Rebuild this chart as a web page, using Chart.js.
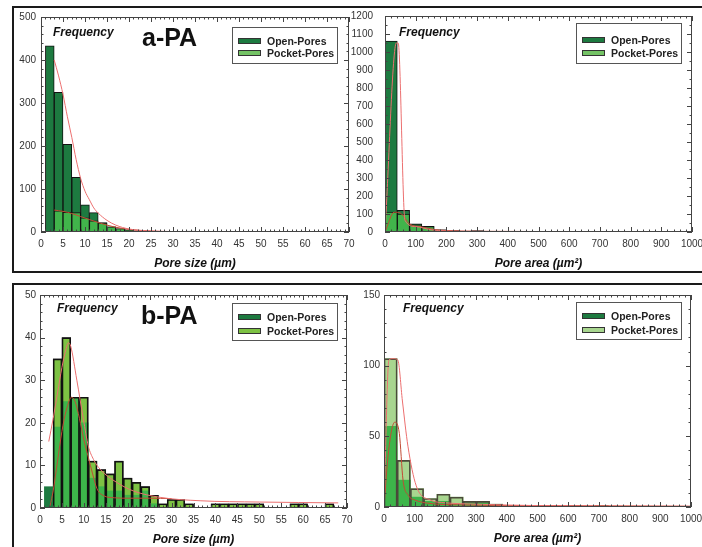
<!DOCTYPE html>
<html><head><meta charset="utf-8">
<script src="https://cdn.jsdelivr.net/npm/chart.js@4.4.0/dist/chart.umd.min.js"></script>
<style>
html,body{margin:0;padding:0;background:#fff;}
#wrap{position:relative;width:702px;height:547px;overflow:hidden;font-family:"Liberation Sans",Arial,sans-serif;}
canvas{position:absolute;left:0;top:0;}
.frame{position:absolute;border:2px solid #1a1a1a;box-sizing:border-box;}
.freq{position:absolute;font:italic bold 12px "Liberation Sans",Arial,sans-serif;color:#111;line-height:12px;white-space:nowrap;}
.tag{position:absolute;font:bold 25px "Liberation Sans",Arial,sans-serif;color:#111;line-height:25px;white-space:nowrap;}
.leg{position:absolute;border:1px solid #555;background:#fff;box-sizing:border-box;}
.sw{position:absolute;width:23px;height:6px;border:1px solid #333;box-sizing:border-box;}
.lt{position:absolute;font:bold 10.5px "Liberation Sans",Arial,sans-serif;color:#222;line-height:12px;white-space:nowrap;}
</style>
</head><body>
<div id="wrap">
  <div class="frame" style="left:12px;top:6px;width:710px;height:267px;"></div>
  <div class="frame" style="left:12px;top:283px;width:710px;height:280px;"></div>
  <canvas id="c1" width="702" height="547"></canvas>
  <canvas id="c2" width="702" height="547"></canvas>
  <canvas id="c3" width="702" height="547"></canvas>
  <canvas id="c4" width="702" height="547"></canvas>
  <div class="freq" style="left:53px;top:26px;">Frequency</div>
  <div class="freq" style="left:399px;top:26px;">Frequency</div>
  <div class="freq" style="left:57px;top:302px;">Frequency</div>
  <div class="freq" style="left:403px;top:302px;">Frequency</div>
  <div class="tag" style="left:142px;top:25px;">a-PA</div>
  <div class="tag" style="left:141px;top:303px;">b-PA</div>
</div>
<script>
// ---------- DATA ----------
// a-PA : pore size (bins of 2 µm)
const aSizeBins   = [2,4,6,8,10,12,14,16,18,20,22,24,26,28,30,32,34];
const aSizeOpen   = [433,325,204,127,63,45,22,12,7,4,2,1,1,0,0,0,2];
const aSizePocket = [0,49,46,45,33,26,21,12,8,5,3,2,1,0,0,0,0];
const aSizeOpenFitX   = [3,4,5,6,7,8,9,10,11,12,13,15,17,20,25,30,35];
const aSizeOpenFitY   = [400,363,320,268,220,168,125,95,75,56,44,27,16,7,2.5,1,0.5];
const aSizePocketFitX = [3,5,7,9,11,13,15,17,20,25,30];
const aSizePocketFitY = [51,48,43,36,29,22,16,11,6,2,0.5];

// a-PA : pore area (bins of 40 µm²)
const aAreaBins   = [20,60,100,140,180,220,260,300,340,380,420,460];
const aAreaOpen   = [1060,120,45,32,12,8,5,8,3,2,1,1];
const aAreaPocket = [110,100,40,30,12,6,4,3,2,1,1,0];
const aAreaOpenFitX   = [0,37,43,65,100,150,200,300,500,1000];
const aAreaOpenFitY   = [0,1050,1050,65,30,12,6,3,1.5,0.5];
const aAreaPocketFitX = [0,30,50,80,120,160,200,300,1000];
const aAreaPocketFitY = [0,110,105,45,28,14,8,4,1];

// b-PA : pore size (bins of 2 µm)
const bSizeBins   = [2,4,6,8,10,12,14,16,18,20,22,24,26,28,30,32,34,36,38,40,42,44,46,48,50,52,54,56,58,60,62,64,66];
const bSizePocket = [0,35,40,26,26,11,9,8,11,7,6,5,3,1,2,2,1,0,0,1,1,1,1,1,1,0,0,0,1,1,0,0,1];
const bSizeOpen   = [5,19,25,26,20,7,5,4,4,3,3,4,1,0,0,0,0,0,0,0,0,0,0,0,0,0,0,0,0,0,0,0,0];
const bSizePocketFitX = [2,3,4,5,6,6.5,7,8.4,9.9,11,12.2,13.7,17.5,21.3,27.4,36.5,50,68];
const bSizePocketFitY = [15.6,21,27,33,37.5,38.8,38,30,20.8,14.6,11.4,9.1,6,4,2.5,1.7,1.4,1.2];
const bSizeOpenFitX   = [2.3,3,4,5,6,7.2,8,9,10,11,12,13,14.5,17,20,25,30];
const bSizeOpenFitY   = [0.5,4,11,18,23,26,25,21,16,12,8,4.5,2.9,2.4,2.3,2.3,2.2];

// b-PA : pore area (bins of 43 µm²)
const bAreaBins   = [21.5,64.5,107.5,150.5,193.5,236.5,279.5,322.5,365.5,408.5,451.5,494.5,537.5,580.5,623.5,666.5,709.5,752.5,795.5];
const bAreaPocket = [105,33,13,6,9,7,4,4,2,0,1,1,1,0,1,0,1,0,0.5];
const bAreaOpen   = [57,19,7,4,4,2,3,3,1,0,0.5,0.5,0,0,0.5,0,0.5,0,0.5];
const bAreaPocketFitX = [0,16,30,45,60,78,105,150,200,300,500,1000];
const bAreaPocketFitY = [0,104,105,104,75,43,15,5,3,2,1,0.5];
const bAreaOpenFitX   = [0,15,35,50,62,80,100,150,250,500,1000];
const bAreaOpenFitY   = [0,40,60,52,19,8,5,2.5,1.5,1,0.5];

const seriesNames = ['Open-Pores','Pocket-Pores'];

// ---------- STYLE ----------
const DARK='#1d7a40', BRIGHT='#41b44b', LEGPOCKET='#74c365';
const B_POCKET='#7dc243', B_OPEN='#3db54a', BR_POCKET='#a8d68f';
const PINK='#ec6f6f', DRED='#c24a34';
const FONT='"Liberation Sans", Arial, sans-serif';

const pts=(xs,ys)=>xs.map((x,i)=>({x:x,y:ys[i]}));
const barDs=(xs,ys,opt)=>Object.assign({type:'bar',data:pts(xs,ys),grouped:false,barPercentage:1,categoryPercentage:1,borderWidth:1,borderColor:'#111'},opt);
const lineDs=(xs,ys,color)=>({type:'line',data:pts(xs,ys),borderColor:color,borderWidth:1,pointRadius:0,fill:false,cubicInterpolationMode:'monotone',order:0});

const boxPlugin={
  id:'box',
  afterDatasetsDraw(chart,args,o){
    const {ctx,chartArea:a,scales:{x,y}}=chart;
    ctx.save();
    ctx.strokeStyle='#444';ctx.lineWidth=1;
    ctx.strokeRect(Math.round(a.left)+0.5,Math.round(a.top)+0.5,Math.round(a.right-a.left)-1,Math.round(a.bottom-a.top)-1);
    ctx.beginPath();
    const nx=Math.round((x.max-x.min)/o.xMinor), rx=Math.round(o.xMajor/o.xMinor);
    for(let i=0;i<=nx;i++){
      const px=Math.round(x.getPixelForValue(x.min+i*o.xMinor))+0.5;
      const L=(i%rx===0)?5:2.5;
      ctx.moveTo(px,a.bottom);ctx.lineTo(px,a.bottom-L);
      ctx.moveTo(px,a.top);ctx.lineTo(px,a.top+L);
    }
    const ny=Math.round((y.max-y.min)/o.yMinor), ry=Math.round(o.yMajor/o.yMinor);
    for(let i=0;i<=ny;i++){
      const py=Math.round(y.getPixelForValue(y.min+i*o.yMinor))+0.5;
      const L=(i%ry===0)?5:2.5;
      ctx.moveTo(a.left,py);ctx.lineTo(a.left+L,py);
      ctx.moveTo(a.right,py);ctx.lineTo(a.right-L,py);
    }
    ctx.stroke();
    ctx.restore();
  }
};

const Y_W=40, X_H=39;
const plain=v=>String(v);
function makeChart(id,area,c){
  new Chart(document.getElementById(id),{
    type:'bar',
    data:{datasets:c.datasets},
    options:{
      responsive:false,animation:false,events:[],
      layout:{padding:{left:area.l-Y_W,top:area.t,right:702-area.r,bottom:547-area.b-X_H}},
      plugins:{legend:{display:false},tooltip:{enabled:false},
        box:{xMinor:c.xMinor,xMajor:c.xStep,yMinor:c.yMinor,yMajor:c.yStep}},
      scales:{
        x:{type:'linear',min:0,max:c.xMax,offset:false,
          grid:{display:false,drawTicks:false},border:{display:false},
          ticks:{stepSize:c.xStep,padding:6,color:'#333',font:{family:FONT,size:10},maxRotation:0,autoSkip:false,callback:plain},
          title:{display:true,text:c.xTitle,color:'#111',font:{family:FONT,size:12,weight:'bold',style:'italic'},padding:{top:0,bottom:0}},
          afterFit(s){s.height=X_H;s.paddingLeft=0;s.paddingRight=0;s.paddingTop=0;s.paddingBottom=0;}
        },
        y:{min:0,max:c.yMax,
          grid:{display:false,drawTicks:false},border:{display:false},
          ticks:{stepSize:c.yStep,padding:c.yPad,color:'#333',font:{family:FONT,size:10},callback:plain},
          afterFit(s){s.width=Y_W;s.paddingLeft=0;s.paddingRight=0;s.paddingTop=0;s.paddingBottom=0;}
        }
      }
    },
    plugins:[boxPlugin]
  });
}

// Top-left: a-PA pore size
makeChart('c1',{l:41,t:17,r:349,b:232},{
  xMax:70,xStep:5,xMinor:1,yMax:500,yStep:100,yMinor:20,yPad:5,xTitle:'Pore size (µm)',
  datasets:[
    lineDs(aSizeOpenFitX,aSizeOpenFitY,PINK),
    lineDs(aSizePocketFitX,aSizePocketFitY,DRED),
    barDs(aSizeBins,aSizePocket,{backgroundColor:BRIGHT,order:1,label:seriesNames[1]}),
    barDs(aSizeBins,aSizeOpen,{backgroundColor:DARK,order:2,label:seriesNames[0]})
  ]});

// Top-right: a-PA pore area
makeChart('c2',{l:385,t:16,r:692,b:232},{
  xMax:1000,xStep:100,xMinor:20,yMax:1200,yStep:100,yMinor:50,yPad:12,xTitle:'Pore area (µm²)',
  datasets:[
    lineDs(aAreaOpenFitX,aAreaOpenFitY,PINK),
    lineDs(aAreaPocketFitX,aAreaPocketFitY,DRED),
    barDs(aAreaBins,aAreaPocket,{backgroundColor:BRIGHT,order:1,label:seriesNames[1]}),
    barDs(aAreaBins,aAreaOpen,{backgroundColor:DARK,order:2,label:seriesNames[0]})
  ]});

// Bottom-left: b-PA pore size
makeChart('c3',{l:40,t:295,r:347,b:508},{
  xMax:70,xStep:5,xMinor:1,yMax:50,yStep:10,yMinor:2,yPad:4,xTitle:'Pore size (µm)',
  datasets:[
    lineDs(bSizePocketFitX,bSizePocketFitY,PINK),
    lineDs(bSizeOpenFitX,bSizeOpenFitY,DRED),
    barDs(bSizeBins,bSizePocket,{backgroundColor:'rgba(0,0,0,0)',order:1}),
    barDs(bSizeBins,bSizeOpen,{backgroundColor:bSizeBins.map((b,i)=>bSizePocket[i]===0?DARK:B_OPEN),borderWidth:0,order:2,label:seriesNames[0]}),
    barDs(bSizeBins,bSizePocket,{backgroundColor:B_POCKET,order:3,label:seriesNames[1]})
  ]});

// Bottom-right: b-PA pore area
makeChart('c4',{l:384,t:295,r:691,b:507},{
  xMax:1000,xStep:100,xMinor:20,yMax:150,yStep:50,yMinor:10,yPad:4,xTitle:'Pore area (µm²)',
  datasets:[
    lineDs(bAreaPocketFitX,bAreaPocketFitY,PINK),
    lineDs(bAreaOpenFitX,bAreaOpenFitY,DRED),
    barDs(bAreaBins,bAreaPocket,{backgroundColor:'rgba(0,0,0,0)',borderColor:'#4a4a3a',order:1}),
    barDs(bAreaBins,bAreaOpen,{backgroundColor:B_OPEN,borderWidth:0,order:2,label:seriesNames[0]}),
    barDs(bAreaBins,bAreaPocket,{backgroundColor:BR_POCKET,borderWidth:0,order:3,label:seriesNames[1]})
  ]});

// Legends (HTML boxes)
function legend(x,y,w,h,r1,r2,c1,c2){
  const wrap=document.getElementById('wrap');
  const box=document.createElement('div');box.className='leg';
  box.style.cssText=`left:${x}px;top:${y}px;width:${w}px;height:${h}px;`;
  [[r1,c1,seriesNames[0]],[r2,c2,seriesNames[1]]].forEach(([r,c,t])=>{
    const s=document.createElement('div');s.className='sw';
    s.style.cssText=`left:5px;top:${r-3}px;background:${c};`;box.appendChild(s);
    const l=document.createElement('div');l.className='lt';l.textContent=t;
    l.style.cssText=`left:34px;top:${r-6}px;`;box.appendChild(l);
  });
  wrap.appendChild(box);
}
legend(232,27,106,37,12.5,25,DARK,LEGPOCKET);
legend(576,23,106,41,16,28.5,DARK,LEGPOCKET);
legend(232,303,106,38,12.5,26.5,DARK,B_POCKET);
legend(576,302,106,38,12.5,26.5,DARK,BR_POCKET);
</script>
</body></html>
